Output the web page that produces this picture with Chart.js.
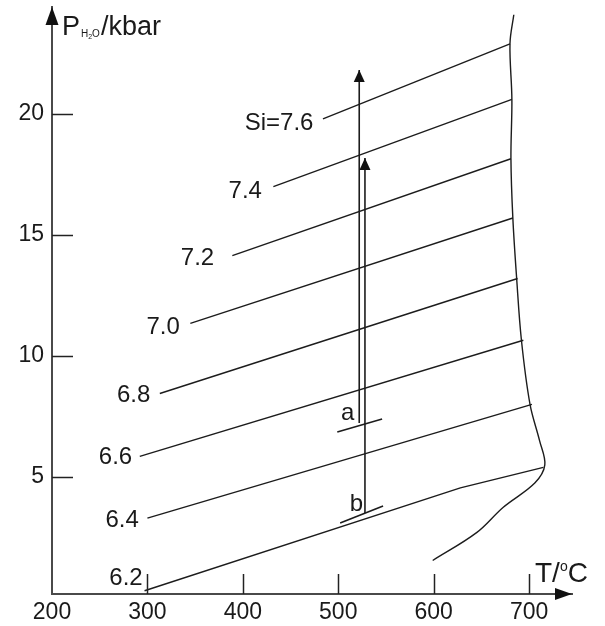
<!DOCTYPE html>
<html>
<head>
<meta charset="utf-8">
<script src="https://cdn.jsdelivr.net/npm/chart.js@4"></script>
<style>
  html, body { margin: 0; padding: 0; background: #fff; }
</style>
</head>
<body>
<canvas id="myChart" width="605" height="626"></canvas>
<script>
// Si isopleths, T in degC and P in kbar
const t62 = [297, 628, 715];
const p62 = [0.3, 4.55, 5.4];
const t64 = [300, 703];
const p64 = [3.3, 8.0];
const t66 = [292, 694];
const p66 = [5.85, 10.65];
const t68 = [313, 688];
const p68 = [8.45, 13.2];
const t70 = [345, 683];
const p70 = [11.35, 15.7];
const t72 = [389, 681];
const p72 = [14.15, 18.15];
const t74 = [432, 682];
const p74 = [17.0, 20.6];
const t76 = [484, 680];
const p76 = [19.8, 22.9];

// labels of the isopleths and where their right edge sits
const siLabels = ['6.2', '6.4', '6.6', '6.8', '7.0', '7.2', '7.4', 'Si=7.6'];
const labelT = [295, 291, 284, 303, 334, 370, 420, 474];
const labelP = [0.83, 3.22, 5.83, 8.39, 11.2, 14.05, 16.82, 19.63];

// upper stability limit (right boundary)
const boundT = [684, 680, 682, 681, 683, 687, 692, 701, 711, 716.5, 706, 673, 645, 599];
const boundP = [24.1, 22.9, 20.6, 18.15, 15.7, 13.2, 10.65, 8.0, 6.5, 5.5, 4.75, 3.75, 2.7, 1.55];

// the two vertical arrows (from a and from b)
const arrowT = [522, 528];
const arrowFromP = [7.23, 3.51];
const arrowToP = [21.82, 18.18];

// short marks a and b
const markNames = ['a', 'b'];
const markT1 = [499, 502];
const markP1 = [6.86, 3.10];
const markT2 = [546, 547];
const markP2 = [7.40, 3.80];
const markLabelT = [510, 519];
const markLabelP = [7.64, 3.88];

const xTicks = [300, 400, 500, 600, 700];
const yTicks = [5, 10, 15, 20];

function pts(ts, ps) {
    return ts.map((t, i) => ({ x: t, y: ps[i] }));
}

const lineColor = '#1c1c1c';
const datasets = [];
[[t62, p62], [t64, p64], [t66, p66], [t68, p68], [t70, p70], [t72, p72], [t74, p74], [t76, p76]].forEach(function(pair) {
    datasets.push({ data: pts(pair[0], pair[1]), borderColor: lineColor, borderWidth: 1.4, tension: 0 });
});
datasets.push({ data: pts(boundT, boundP), borderColor: lineColor, borderWidth: 1.4, tension: 0.35 });
arrowT.forEach(function(t, i) {
    datasets.push({ data: [{ x: t, y: arrowFromP[i] }, { x: t, y: arrowToP[i] }], borderColor: lineColor, borderWidth: 1.6 });
});
markNames.forEach(function(n, i) {
    datasets.push({ data: [{ x: markT1[i], y: markP1[i] }, { x: markT2[i], y: markP2[i] }], borderColor: lineColor, borderWidth: 1.6 });
});

const font = '"Liberation Sans", Arial, sans-serif';

// arrowheads, inward ticks, text labels and axis titles
const extras = {
    id: 'extras',
    afterDraw(chart) {
        const { ctx, chartArea: area } = chart;
        const x = chart.scales.x, y = chart.scales.y;
        ctx.save();

        // tick marks pointing into the plot
        ctx.strokeStyle = '#222';
        ctx.lineWidth = 1.5;
        xTicks.forEach(function(v) {
            const px = Math.round(x.getPixelForValue(v)) + 0.5;
            ctx.beginPath();
            ctx.moveTo(px, area.bottom);
            ctx.lineTo(px, area.bottom - 20);
            ctx.stroke();
        });
        yTicks.forEach(function(v) {
            const py = Math.round(y.getPixelForValue(v)) + 0.5;
            ctx.beginPath();
            ctx.moveTo(area.left, py);
            ctx.lineTo(area.left + 21, py);
            ctx.stroke();
        });

        // axis arrowheads
        ctx.fillStyle = '#111';
        ctx.beginPath();
        ctx.moveTo(area.left, area.top);
        ctx.lineTo(area.left - 6.5, area.top + 18);
        ctx.lineTo(area.left + 6.5, area.top + 18);
        ctx.closePath();
        ctx.fill();
        ctx.beginPath();
        ctx.moveTo(area.right, area.bottom);
        ctx.lineTo(area.right - 17, area.bottom - 6);
        ctx.lineTo(area.right - 17, area.bottom + 6);
        ctx.closePath();
        ctx.fill();

        // heads of the vertical arrows
        arrowT.forEach(function(t, i) {
            const px = x.getPixelForValue(t);
            const py = y.getPixelForValue(arrowToP[i]);
            ctx.beginPath();
            ctx.moveTo(px, py);
            ctx.lineTo(px - 5.5, py + 12);
            ctx.lineTo(px + 5.5, py + 12);
            ctx.closePath();
            ctx.fill();
        });

        // isopleth labels
        ctx.fillStyle = '#1a1a1a';
        ctx.font = '24px ' + font;
        ctx.textAlign = 'right';
        ctx.textBaseline = 'middle';
        siLabels.forEach(function(s, i) {
            ctx.fillText(s, x.getPixelForValue(labelT[i]), y.getPixelForValue(labelP[i]));
        });
        ctx.textAlign = 'center';
        markNames.forEach(function(s, i) {
            ctx.fillText(s, x.getPixelForValue(markLabelT[i]), y.getPixelForValue(markLabelP[i]));
        });

        // y axis title P(H2O)/kbar
        ctx.textAlign = 'left';
        ctx.textBaseline = 'alphabetic';
        let cx = area.left + 10;
        ctx.font = '27px ' + font;
        ctx.fillText('P', cx, 35);
        cx += ctx.measureText('P').width + 1;
        ctx.font = '10px ' + font;
        ctx.fillText('H', cx, 37);
        cx += ctx.measureText('H').width;
        ctx.font = '7px ' + font;
        ctx.fillText('2', cx, 39);
        cx += ctx.measureText('2').width;
        ctx.font = '10px ' + font;
        ctx.fillText('O', cx, 37);
        cx += ctx.measureText('O').width + 1;
        ctx.font = '27px ' + font;
        ctx.fillText('/kbar', cx, 35);

        // x axis title T/oC
        cx = 535;
        ctx.font = '28px ' + font;
        ctx.fillText('T/', cx, 582);
        cx += ctx.measureText('T/').width;
        ctx.font = '14px ' + font;
        ctx.fillText('o', cx, 571);
        cx += ctx.measureText('o').width;
        ctx.font = '28px ' + font;
        ctx.fillText('C', cx, 582);

        ctx.restore();
    }
};

// keep the plot area where the figure has it, whatever the label sizes
function fixPadding(s) {
    s.paddingTop = 0;
    s.paddingBottom = 0;
    s.paddingLeft = 0;
    s.paddingRight = 0;
}

const ctx = document.getElementById('myChart').getContext('2d');
window.phaseChart = new Chart(ctx, {
    type: 'scatter',
    data: { datasets: datasets },
    options: {
        responsive: false,
        animation: false,
        showLine: true,
        elements: { point: { radius: 0, hoverRadius: 0 } },
        layout: { padding: { top: 7, right: 33, left: 0, bottom: 0 } },
        plugins: { legend: { display: false }, tooltip: { enabled: false } },
        scales: {
            x: {
                type: 'linear',
                min: 200,
                max: 745,
                grid: { display: false, drawTicks: false },
                border: { display: true, color: '#4a4a4a', width: 2 },
                ticks: { stepSize: 100, includeBounds: false, padding: 5, color: '#1a1a1a', font: { family: font, size: 23 } },
                afterFit: function(s) { s.height = 32; fixPadding(s); }
            },
            y: {
                type: 'linear',
                min: 0.165,
                max: 24.42,
                grid: { display: false, drawTicks: false },
                border: { display: true, color: '#4a4a4a', width: 2 },
                ticks: { stepSize: 5, includeBounds: false, padding: 8, color: '#1a1a1a', font: { family: font, size: 23 } },
                afterFit: function(s) { s.width = 52; fixPadding(s); }
            }
        }
    },
    plugins: [extras]
});
</script>
</body>
</html>
